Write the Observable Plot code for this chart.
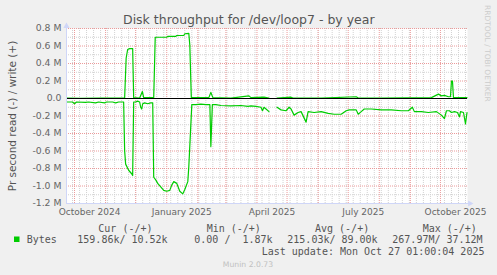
<!DOCTYPE html>
<html><head><meta charset="utf-8">
<script src="https://cdn.jsdelivr.net/npm/d3@7"></script>
<script src="https://cdn.jsdelivr.net/npm/@observablehq/plot@0.6"></script>
<style>
html,body{margin:0;padding:0;background:#f0f0f0;}
#chart{position:relative;width:497px;height:275px;overflow:hidden;}
</style></head><body><div id="chart"></div>
<script>
// write (+) series, bytes per second
const writeDates = ["2024-09-23","2024-10-07","2024-10-27","2024-11-20","2024-11-21T12:00Z","2024-11-23","2024-11-25","2024-11-28","2024-11-29","2024-12-05","2024-12-07T16:00Z","2024-12-09","2024-12-19","2024-12-20T12:00Z","2024-12-26","2025-01-01","2025-01-02","2025-01-10","2025-01-11","2025-01-18","2025-01-19","2025-01-23","2025-01-24","2025-01-25T12:00Z","2025-02-12","2025-02-14","2025-02-16","2025-03-06","2025-03-24","2025-03-26","2025-04-08","2025-04-13","2025-04-16","2025-04-21","2025-05-05","2025-05-07","2025-06-04","2025-07-09","2025-07-11","2025-08-03","2025-09-22","2025-09-29","2025-10-02","2025-10-05","2025-10-09","2025-10-11","2025-10-12","2025-10-13","2025-10-14","2025-10-27T12:00Z"];
const writeValues = [5000,3000,4000,5000,460000,560000,570000,570000,10000,5000,80000,10000,10000,700000,700000,700000,710000,710000,720000,720000,740000,745000,610000,10000,10000,70000,10000,5000,30000,10000,15000,5000,null,5000,15000,5000,5000,20000,5000,5000,10000,50000,30000,35000,20000,20000,200000,200000,10000,10000];
// read (-) series, bytes per second (negated)
const readDates = ["2024-09-23","2024-09-29","2024-10-01","2024-10-03","2024-10-12","2024-10-15","2024-10-22","2024-10-25","2024-10-31","2024-11-02","2024-11-08","2024-11-11","2024-11-14","2024-11-19","2024-11-20","2024-11-21","2024-11-24","2024-11-27","2024-11-28","2024-11-29","2024-12-01","2024-12-03","2024-12-05","2024-12-06","2024-12-07","2024-12-08","2024-12-10","2024-12-13","2024-12-16","2024-12-18","2024-12-19","2024-12-21","2024-12-23","2024-12-26","2024-12-29","2025-01-01","2025-01-04","2025-01-06","2025-01-08","2025-01-11","2025-01-14","2025-01-17","2025-01-19","2025-01-22","2025-01-23","2025-01-26","2025-01-30","2025-02-04","2025-02-09","2025-02-13","2025-02-14","2025-02-15T12:00Z","2025-02-19","2025-02-24","2025-03-06","2025-03-16","2025-03-23","2025-03-26","2025-03-31","2025-04-05","2025-04-06T12:00Z","2025-04-08","2025-04-10","2025-04-13","2025-04-16","2025-04-21","2025-04-25","2025-04-30","2025-05-03","2025-05-05","2025-05-08","2025-05-12","2025-05-15","2025-05-20","2025-05-22","2025-05-28","2025-06-04","2025-06-11","2025-06-17","2025-06-24","2025-06-29","2025-07-02","2025-07-09","2025-07-11","2025-07-14","2025-07-17","2025-07-24","2025-08-03","2025-08-13","2025-08-23","2025-08-30","2025-09-03","2025-09-05","2025-09-12","2025-09-19","2025-09-27","2025-10-02","2025-10-05","2025-10-07","2025-10-10","2025-10-12","2025-10-15","2025-10-18","2025-10-20","2025-10-21","2025-10-24","2025-10-26","2025-10-27T12:00Z"];
const readValues = [-40000,-40000,-60000,-40000,-45000,-40000,-50000,-40000,-50000,-40000,-40000,-50000,-40000,-40000,-600000,-750000,-820000,-860000,-880000,-40000,-40000,-30000,-40000,-100000,-120000,-60000,-50000,-60000,-50000,-50000,-900000,-930000,-970000,-1010000,-1050000,-1060000,-1050000,-990000,-950000,-970000,-1060000,-1090000,-1040000,-950000,-780000,-70000,-70000,-65000,-70000,-70000,-550000,-70000,-70000,-80000,-85000,-80000,-90000,-85000,-90000,-100000,-140000,-100000,-120000,-150000,null,-100000,-130000,-140000,-100000,-120000,-190000,-160000,-150000,-270000,-150000,-160000,-150000,-170000,-180000,-180000,-140000,-130000,-130000,-180000,-150000,-120000,-120000,-130000,-130000,-140000,-140000,-100000,-150000,-150000,-160000,-150000,-190000,-230000,-140000,-140000,-160000,-150000,-160000,-210000,-150000,-160000,-290000,-160000];
const yTicks = [-1200000,-1000000,-800000,-600000,-400000,-200000,0,200000,400000,600000,800000];
const yMinorTicks = [-1100000,-900000,-700000,-500000,-300000,-100000,100000,300000,500000,700000];
const xLabelDates = ["2024-10-16","2025-01-16","2025-04-16","2025-07-16","2025-10-16"];
const domainDates = ["2024-09-23","2025-10-28"];
const title = "Disk throughput for /dev/loop7 - by year";
const yLabel = "Pr second read (-) / write (+)";
const legendHeaders = ["Cur (-/+)","Min (-/+)","Avg (-/+)","Max (-/+)"];
const legendName = "Bytes";
const legendValues = ["159.86k/ 10.52k","0.00 /  1.87k","215.03k/ 89.00k","267.97M/ 37.12M"];
const lastUpdate = "Last update: Mon Oct 27 01:00:04 2025";
const version = "Munin 2.0.73";
const watermark = "RRDTOOL / TOBI OETIKER";

const write = writeDates.map((d, i) => ({date: new Date(d), value: writeValues[i]}));
const read = readDates.map((d, i) => ({date: new Date(d), value: readValues[i]}));
const [x0, x1] = domainDates.map(d => new Date(d));
const months = d3.utcMonth.range(x0, x1);
const weeks = d3.utcSunday.range(x0, x1);
const fmtY = v => v === 0 ? "0.0" : (v / 1e6).toFixed(1) + " M";

const green = "#00cc00", axisCol = "#cfd6f8", major = "#eb9a9a", minor = "#d2d2d2";

const plot = Plot.plot({
  width: 497, height: 275,
  marginLeft: 66, marginRight: 30, marginTop: 28, marginBottom: 72,
  style: {background: "transparent", fontFamily: "DejaVu Sans", fontSize: "9.3px", color: "#666", overflow: "visible"},
  x: {type: "utc", domain: [x0, x1]},
  y: {domain: [-1200000, 800000]},
  marks: [
    Plot.frame({fill: "white", stroke: "none"}),
    Plot.ruleX(weeks, {stroke: minor, strokeDasharray: "1,1"}),
    Plot.ruleY(yMinorTicks, {stroke: minor, strokeDasharray: "1,1"}),
    Plot.ruleX(months, {stroke: major, strokeDasharray: "1,1"}),
    Plot.ruleY(yTicks.filter(v => v !== 0 && v !== -1200000), {stroke: major, strokeDasharray: "1,1"}),
    Plot.line(read, {x: "date", y: "value", stroke: green, strokeWidth: 1.2}),
    Plot.line(write, {x: "date", y: "value", stroke: green, strokeWidth: 1.2}),
    Plot.ruleY([0], {stroke: "#000", strokeWidth: 1}),
    Plot.ruleX([x0], {stroke: axisCol, insetTop: -5}),
    Plot.ruleY([-1200000], {stroke: axisCol, insetRight: -5}),
    Plot.dot({length: 1}, {frameAnchor: "top-left", symbol: "triangle", r: 2.3, fill: axisCol, stroke: "none", dy: -2.4}),
    Plot.dot({length: 1}, {frameAnchor: "bottom-right", symbol: "triangle", r: 2.3, fill: axisCol, stroke: "none", rotate: 90, dx: 2.4}),
    Plot.axisY({ticks: yTicks, tickFormat: fmtY, tickSize: 0, tickPadding: 5, label: null}),
    Plot.axisX({ticks: xLabelDates.map(d => new Date(d)), tickFormat: d3.utcFormat("%B %Y"), tickSize: 0, tickPadding: 5, label: null, fontSize: 9}),
    Plot.text([yLabel], {frameAnchor: "left", text: d => d, textAnchor: "middle", rotate: -90, dx: -54.3, fontSize: 10.5, fill: "#555"})
  ]
});

const svg = d3.select(plot);
svg.append("text").attr("x", 248.8).attr("y", 24).attr("text-anchor", "middle")
  .style("font", "12.5px 'DejaVu Sans'").attr("fill", "#555").text(title);
svg.append("text").attr("transform", "translate(484.8,5) rotate(90)").attr("text-anchor", "start")
  .style("font", "7.5px 'DejaVu Sans'").attr("fill", "#cccccc").text(watermark);
const mono = "10px 'DejaVu Sans Mono'";
const addText = (x, y, t) => svg.append("text").attr("x", x).attr("y", y).attr("text-anchor", "start")
  .attr("xml:space", "preserve").style("white-space", "pre").style("font", mono).attr("fill", "#555").text(t);
const headerX = [98.3, 206.7, 315, 422.7];
legendHeaders.forEach((h, i) => addText(headerX[i], 231.5, h));
svg.append("rect").attr("x", 14).attr("y", 236.5).attr("width", 5.5).attr("height", 5.5).attr("fill", green);
addText(26.7, 243, legendName);
const valX = [77.3, 194.3, 287.3, 392.3];
legendValues.forEach((v, i) => addText(valX[i], 243, v));
addText(261.7, 255, lastUpdate);
svg.append("text").attr("x", 248).attr("y", 267).attr("text-anchor", "middle")
  .style("font", "7.7px 'DejaVu Sans'").attr("fill", "#c0c0c0").text(version);

document.getElementById("chart").appendChild(plot);
</script>
</body></html>
